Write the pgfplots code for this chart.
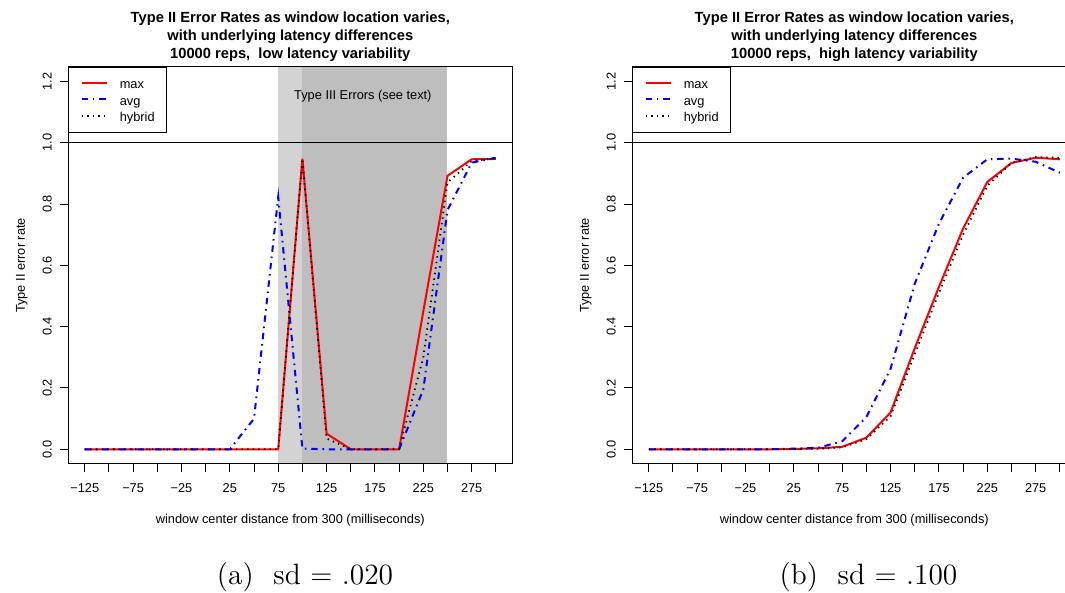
\documentclass[border=0pt]{standalone}
\usepackage{pgfplots}
\pgfplotsset{compat=1.18}
\usepackage{pgfplotstable}
\usepackage{fontspec}
\newfontfamily\hv{Liberation Sans}
\definecolor{ltgray}{HTML}{D3D3D3}
\definecolor{dkgray}{HTML}{BEBEBE}
\definecolor{rred}{HTML}{FF0000}
\definecolor{rblue}{HTML}{0000FF}

\pgfplotstableread{
x max avg hybrid
-125 0 0 0
-100 0 0 0
-75 0 0 0
-50 0 0 0
-25 0 0 0
0 0 0 0
25 0 0 0
50 0 0.10 0
75 0 0.823 0
100 0.948 0.002 0.948
125 0.051 0 0.035
150 0 0 0
175 0 0 0
200 0 0 0.002
225 0.45 0.195 0.30
250 0.892 0.78 0.87
275 0.946 0.935 0.94
300 0.947 0.951 0.95
}\dataA

\pgfplotstableread{
x max avg hybrid
-125 0 0 0
-100 0 0 0
-75 0 0 0
-50 0 0 0
-25 0 0 0
0 0 0 0
25 0.001 0.002 0.001
50 0.003 0.005 0.002
75 0.008 0.026 0.006
100 0.038 0.105 0.033
125 0.12 0.263 0.108
150 0.33 0.54 0.31
175 0.53 0.736 0.51
200 0.72 0.886 0.70
225 0.872 0.946 0.86
250 0.934 0.948 0.934
275 0.951 0.938 0.953
300 0.946 0.902 0.951
}\dataB

\pgfplotsset{
  rstyle/.style={
    width=222pt, height=198.65pt, scale only axis,
    anchor=south west,
    xmin=-142, xmax=317, ymin=-0.048, ymax=1.248,
    axis on top,
    axis line style={line width=0.5pt, black},
    tick align=outside, tick pos=left,
    major tick length=4.2pt,
    tick style={line width=0.5pt, black},
    xtick={-125,-100,...,300},
    xticklabels={−125,,−75,,−25,,25,,75,,125,,175,,225,,275,},
    ytick={0,0.2,0.4,0.6,0.8,1,1.2},
    yticklabels={0.0,0.2,0.4,0.6,0.8,1.0,1.2},
    font=\hv\fontsize{6.4}{7.7}\selectfont,
    ticklabel style={font=\hv\fontsize{6.4}{7.7}\selectfont},
    xticklabel style={anchor=base, yshift=-10.15pt},
    yticklabel style={xshift=-4.15pt, rotate=90, anchor=base},
    every axis x label/.style={at={(axis description cs:0.5,-0.1498)}, anchor=base},
    every axis y label/.style={at={(axis description cs:-0.0977,0.5)}, rotate=90, anchor=base},
    xlabel={window center distance from 300 (milliseconds)},
    ylabel={Type II error rate},
    title style={at={(axis description cs:0.5,1)}, anchor=south, inner sep=0pt, yshift=-3.45pt, align=center, font=\hv\bfseries\fontsize{7.35}{8.85}\selectfont},
    legend cell align=left,
    legend style={at={(0,1)}, anchor=north west, draw=black, line width=0.5pt, fill=white,
      inner xsep=5.85pt, inner ysep=5.07pt, row sep=2.25pt,
      font=\hv\fontsize{6.4}{7.7}\selectfont,
      nodes={inner sep=0pt, text height=5.7pt, text depth=0.3pt},
      /tikz/every odd column/.append style={column sep=5.8pt}},
    legend image code/.code={\draw[##1] (0pt,0.3pt) -- (12.85pt,0.3pt);},
  },
  maxst/.style={rred, line width=1pt},
  avgst/.style={rblue, line width=1pt, dash pattern=on 3.2pt off 2.4pt on 0.8pt off 2.4pt},
  hybst/.style={black, line width=0.9pt, dash pattern=on 0.7pt off 2.1pt},
}

\begin{document}
\begin{tikzpicture}[x=0.5pt, y=0.5pt]
\begin{axis}[rstyle, at={(34.15pt,64.5pt)},
  title={Type II Error Rates as window location varies,\\with underlying latency differences\\10000 reps,\ \ low latency variability}]
  \addplot[forget plot, draw=none, fill=ltgray] coordinates {(75,-1) (75,2) (100,2) (100,-1)} -- cycle;
  \addplot[forget plot, draw=none, fill=dkgray] coordinates {(100,-1) (100,2) (250,2) (250,-1)} -- cycle;
  \addplot[forget plot, black, line width=0.5pt] coordinates {(-200,1) (400,1)};
  \node[font=\hv\fontsize{6.4}{7.7}\selectfont] at (axis cs:162.5,1.152) {Type III Errors (see text)};
  \addplot[maxst] table[x=x, y=max] {\dataA};
  \addplot[avgst] table[x=x, y=avg] {\dataA};
  \addplot[hybst] table[x=x, y=hybrid] {\dataA};
  \legend{max, avg, hybrid}
\end{axis}
\begin{axis}[rstyle, at={(316.15pt,64.5pt)},
  title={Type II Error Rates as window location varies,\\with underlying latency differences\\10000 reps,\ \ high latency variability}]
  \addplot[forget plot, black, line width=0.5pt] coordinates {(-200,1) (400,1)};
  \addplot[maxst] table[x=x, y=max] {\dataB};
  \addplot[avgst] table[x=x, y=avg] {\dataB};
  \addplot[hybst] table[x=x, y=hybrid] {\dataB};
  \legend{max, avg, hybrid}
\end{axis}
\node[anchor=base, font=\fontsize{14.7}{17}\selectfont] at (305,8) {(a)\hspace{0.67em}sd $=$ .020};
\node[anchor=base, font=\fontsize{14.7}{17}\selectfont] at (868.5,8) {(b)\hspace{0.67em}sd $=$ .100};
\pgfresetboundingbox
\path[use as bounding box] (0,0) rectangle (1065,593);
\end{tikzpicture}
\end{document}
